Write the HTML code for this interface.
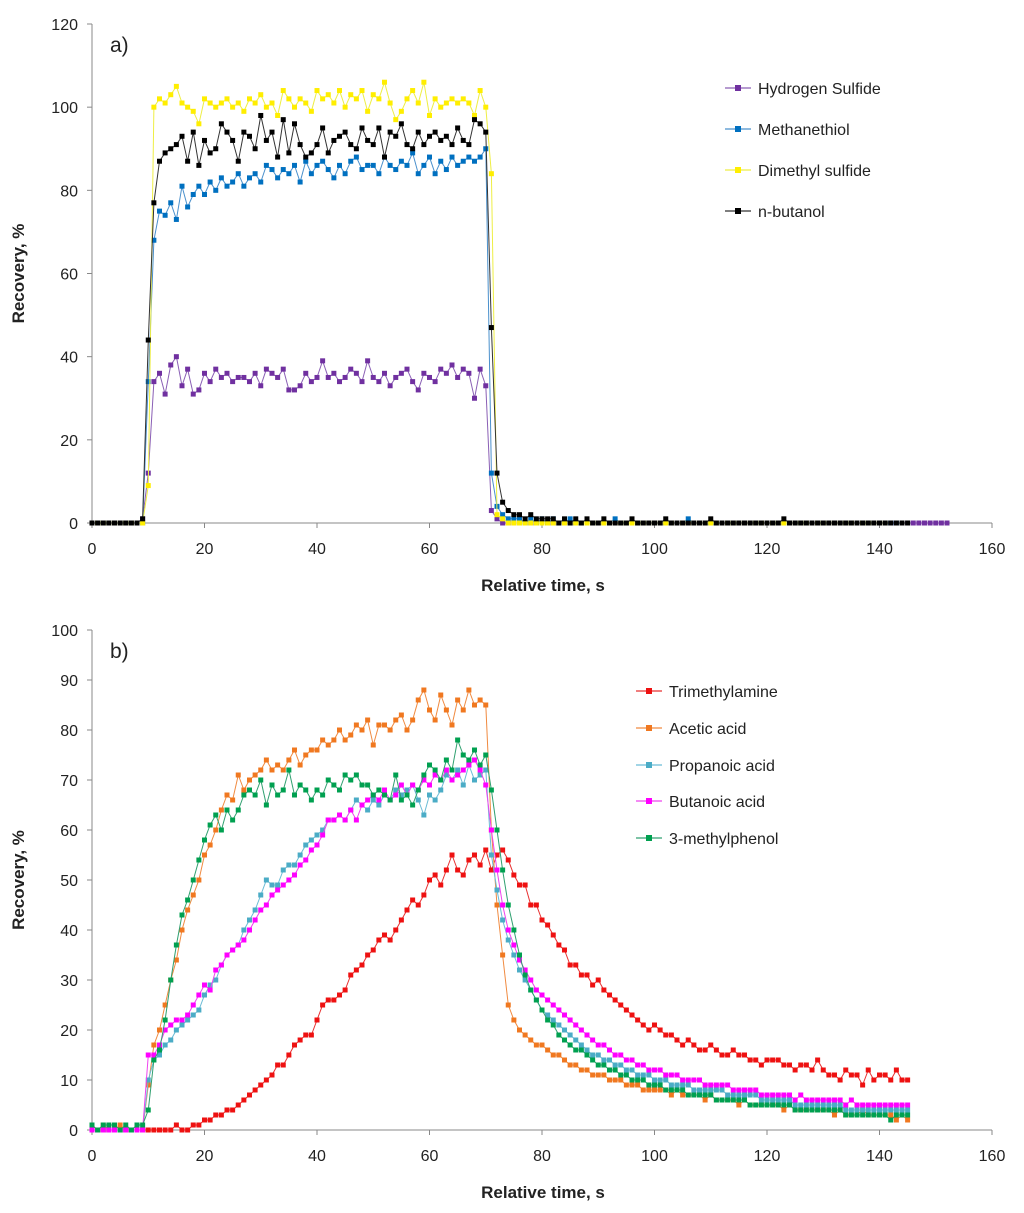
<!DOCTYPE html>
<html><head><meta charset="utf-8">
<style>
body{margin:0;background:#fff;}
svg{display:block;font-family:"Liberation Sans",Arial,sans-serif;}
</style></head>
<body>
<svg id="chart" width="1024" height="1213" viewBox="0 0 1024 1213" xmlns="http://www.w3.org/2000/svg"></svg>
<script>
// ---------- Chart a data (index = time in s) ----------
const aH2S = [0,0,0,0,0,0,0,0,0,1, 12,34,36,31,38,40,33,37,31,32, 36,34,37,35,36,34,35,35,34,36, 33,37,36,35,37,32,32,33,36,34, 35,39,35,36,34,35,37,36,34,39, 35,34,36,33,35,36,37,34,32,36, 35,34,37,36,38,35,37,36,30,37, 33,3,1,0,0,0,0,0,0,0, 0,0,0,0,0,0,0,0,0,0, 0,0,0,0,0,0,0,0,0,0, 0,0,0,0,0,0,0,0,0,0, 0,0,0,0,0,0,0,0,0,0, 0,0,0,0,0,0,0,0,0,0, 0,0,0,0,0,0,0,0,0,0, 0,0,0,0,0,0,0,0,0,0, 0,0,0];
const aMeSH = [0,0,0,0,0,0,0,0,0,0, 34,68,75,74,77,73,81,76,79,81, 79,82,80,83,81,82,84,81,83,84, 82,86,85,83,85,84,86,82,87,84, 86,87,85,83,86,84,87,88,85,86, 86,84,88,86,85,87,86,89,84,86, 88,84,87,85,88,86,87,88,87,88, 90,12,4,2,1,1,1,0,1,0, 1,0,1,0,0,1,0,0,0,0, 0,0,0,1,0,0,0,0,0,0, 0,0,0,0,0,0,1,0,0,0, 0,0,0,0,0,0,0,0,0,0, 0,0,0,0,0,0,0,0,0,0, 0,0,0,0,0,0,0,0,0,0, 0,0,0,0];
const aDMS = [0,0,0,0,0,0,0,0,0,0, 9,100,102,101,103,105,101,100,99,96, 102,101,100,101,102,100,101,99,102,101, 103,100,101,98,104,102,100,102,101,99, 104,102,103,101,104,100,103,102,104,99, 103,102,106,101,97,99,102,104,101,106, 98,102,100,101,102,101,102,101,98,104, 100,84,2,1,0,0,0,0,0,0, 0,0,0,0,0,0,0,0,0,0, 0,0,0,0,0,0,0,0,0,0, 0,0,0,0,0,0,0,0,0,0, 0,0,0,0,0,0,0,0,0,0, 0,0,0,0,0,0,0,0,0,0, 0,0,0,0,0,0,0,0,0,0, 0,0];
const aBut = [0,0,0,0,0,0,0,0,0,1, 44,77,87,89,90,91,93,87,94,86, 92,89,90,96,94,92,87,94,93,90, 98,92,94,88,97,89,96,91,88,89, 91,95,89,92,93,94,91,90,95,92, 91,95,88,94,93,96,91,90,94,91, 93,94,92,93,91,95,92,91,97,96, 94,47,12,5,3,2,2,1,2,1, 1,1,1,0,1,0,1,0,1,0, 0,1,0,0,0,0,1,0,0,0, 0,0,1,0,0,0,0,0,0,0, 1,0,0,0,0,0,0,0,0,0, 0,0,0,1,0,0,0,0,0,0, 0,0,0,0,0,0,0,0,0,0, 0,0,0,0,0,0];
// ---------- Chart b data ----------
const bTMA = [0,0,0,0,0,0,0,0,0,0, 0,0,0,0,0,1,0,0,1,1, 2,2,3,3,4,4,5,6,7,8, 9,10,11,13,13,15,17,18,19,19, 22,25,26,26,27,28,31,32,33,35, 36,38,39,38,40,42,44,46,45,47, 50,51,49,52,55,52,51,54,55,53, 56,52,55,56,54,51,49,49,45,45, 42,41,39,37,36,33,33,31,31,29, 30,28,27,26,25,24,23,22,21,20, 21,20,19,19,18,17,18,17,16,16, 17,16,15,15,16,15,15,14,14,13, 14,14,14,13,13,12,13,13,12,14, 12,11,11,10,12,11,11,9,12,10, 11,11,10,12,10,10];
const bAce = [1,0,1,0,0,1,0,0,0,0, 9,17,20,25,30,34,40,44,47,50, 55,57,60,64,67,66,71,68,70,71, 72,74,72,73,72,74,76,73,75,76, 76,78,77,78,80,78,79,81,80,82, 77,81,81,80,82,83,80,82,86,88, 84,82,87,84,81,86,84,88,85,86, 85,60,45,35,25,22,20,19,18,17, 17,16,15,15,14,13,13,12,12,11, 11,11,10,10,10,9,9,9,8,8, 8,8,8,7,8,7,7,7,7,6, 7,6,6,6,6,5,6,5,5,5, 5,5,5,4,5,4,4,4,4,4, 4,4,3,4,3,3,3,4,3,3, 3,3,3,2,3,2];
const bPro = [0,0,0,0,0,0,0,0,0,0, 10,14,15,17,18,20,21,22,23,24, 27,29,30,33,35,36,37,40,42,44, 47,50,49,49,52,53,53,55,57,58, 59,60,62,62,63,62,64,66,65,64, 66,65,67,66,68,67,68,69,66,63, 67,66,68,71,70,72,69,73,70,71, 72,55,48,42,38,35,32,30,28,26, 24,23,22,21,20,19,18,17,16,15, 15,14,14,13,13,12,12,11,11,11, 10,10,10,9,9,9,9,8,8,8, 8,8,8,7,7,7,7,7,7,6, 6,6,6,6,6,5,5,5,5,5, 5,5,5,5,4,4,4,4,4,4, 4,4,4,4,4,4];
const bBut = [0,0,0,0,0,0,0,0,0,0, 15,15,17,20,21,22,22,23,25,27, 29,28,32,33,35,36,37,38,40,42, 44,45,47,48,49,50,51,53,54,56, 57,59,62,62,63,62,64,62,65,66, 67,66,68,66,67,69,67,69,68,70, 69,71,70,72,70,71,72,73,74,72, 69,60,52,45,40,37,34,32,30,28, 27,26,25,24,23,22,21,20,19,18, 17,17,16,15,15,14,14,13,13,12, 12,12,11,11,11,10,10,10,10,9, 9,9,9,9,8,8,8,8,8,7, 7,7,7,7,7,6,7,6,6,6, 6,6,6,6,5,6,5,5,5,5, 5,5,5,5,5,5];
const bMP = [1,0,1,1,1,0,1,0,1,1, 4,14,16,22,30,37,43,46,50,54, 58,61,63,60,64,62,64,67,68,67, 70,65,69,67,68,72,67,69,68,66, 68,67,70,69,68,71,70,71,69,69, 67,68,67,66,71,66,67,65,68,71, 73,72,70,74,72,78,75,74,76,73, 75,68,60,52,45,40,35,31,28,26, 24,22,21,19,18,17,16,16,15,14, 13,13,12,12,11,11,10,10,10,9, 9,9,8,8,8,8,7,7,7,7, 7,6,6,6,6,6,6,5,5,5, 5,5,5,5,5,4,4,4,4,4, 4,4,4,4,3,3,3,3,3,3, 3,3,2,3,3,3];
const xTicks = [0,20,40,60,80,100,120,140,160];
const aYTicks = [0,20,40,60,80,100,120];
const bYTicks = [0,10,20,30,40,50,60,70,80,90,100];
const aNames = ["Hydrogen Sulfide","Methanethiol","Dimethyl sulfide","n-butanol"];
const bNames = ["Trimethylamine","Acetic acid","Propanoic acid","Butanoic acid","3-methylphenol"];

const NS="http://www.w3.org/2000/svg";
const svg=document.getElementById('chart');
function mk(tag,attrs,parent){const e=document.createElementNS(NS,tag);for(const k in attrs)e.setAttribute(k,attrs[k]);(parent||svg).appendChild(e);return e;}

function drawChart(cfg){
  const g=mk('g',{});
  
  
  const L=92,R=992,T=cfg.top,B=cfg.bottom;
  const xs=v=>L+(v/160)*(R-L);
  const ys=v=>B-(v/cfg.ymax)*(B-T);
  const ax=mk('path',{d:`M${L},${T} V${B} H${R}`,stroke:'#888',fill:'none','stroke-width':1},g);
  
  
  cfg.yt.forEach(v=>{
    mk('line',{x1:L-5,x2:L,y1:ys(v),y2:ys(v),stroke:'#888'},g);
    const t=mk('text',{x:L-14,y:ys(v)+6,'text-anchor':'end','font-size':16,fill:'#222'},g);
    
    
    t.textContent=v;
  });
  xTicks.forEach(v=>{
    mk('line',{x1:xs(v),x2:xs(v),y1:B,y2:B+5,stroke:'#888'},g);
    const t=mk('text',{x:xs(v),y:B+31,'text-anchor':'middle','font-size':16,fill:'#222'},g);
    
    
    t.textContent=v;
  });
  const xt=mk('text',{x:543,y:B+68,'text-anchor':'middle','font-size':17,'font-weight':'bold',fill:'#222'},g);
  
  
  xt.textContent='Relative time, s';
  const yc=(T+B)/2;
  const yt=mk('text',{x:24,y:yc,'text-anchor':'middle','font-size':17,'font-weight':'bold',fill:'#222',transform:`rotate(-90 24 ${yc})`},g);
  
  
  yt.textContent='Recovery, %';
  const pl=mk('text',{x:110,y:T+28,'font-size':21,fill:'#222'},g);
  
  
  pl.textContent=cfg.label;
  cfg.series.forEach((s,i)=>{
    const sg=mk('g',{},g);
    
    
    const pts=s.map((v,t)=>xs(t).toFixed(1)+','+ys(v).toFixed(1)).join(' ');
    mk('polyline',{points:pts,fill:'none',stroke:cfg.lineColors[i],'stroke-width':1},sg);
    s.forEach((v,t)=>{mk('rect',{x:xs(t)-2.5,y:ys(v)-2.5,width:5,height:5,fill:cfg.colors[i]},sg);});
    const ly=cfg.legY[i];
    const lg=mk('g',{},g);
    
    
    mk('line',{x1:cfg.legX,x2:cfg.legX+26,y1:ly,y2:ly,stroke:cfg.lineColors[i],'stroke-width':1.2},lg);
    mk('rect',{x:cfg.legX+10,y:ly-3,width:6,height:6,fill:cfg.colors[i]},lg);
    const lt=mk('text',{x:cfg.legX+33,y:ly+6,'font-size':16,fill:'#222'},lg);
    lt.textContent=cfg.names[i];
  });
}
drawChart({id:'chart-a',top:24,bottom:523,ymax:120,yt:aYTicks,label:'a)',
  series:[aH2S,aMeSH,aDMS,aBut],names:aNames,
  colors:['#7030a0','#0070c0','#ffee00','#000'],lineColors:['#8a5fb5','#4a90cc','#eeee44','#333'],
  legX:725,legY:[88,129,170,211]});
drawChart({id:'chart-b',top:630,bottom:1130,ymax:100,yt:bYTicks,label:'b)',
  series:[bTMA,bAce,bPro,bBut,bMP],names:bNames,
  colors:['#ee1111','#f07820','#4bacc6','#ff00ff','#00a050'],lineColors:['#e83030','#f08a40','#6bbcd6','#ee44ee','#30a070'],
  legX:636,legY:[691,728,765,801,838]});
</script>
</body></html>
